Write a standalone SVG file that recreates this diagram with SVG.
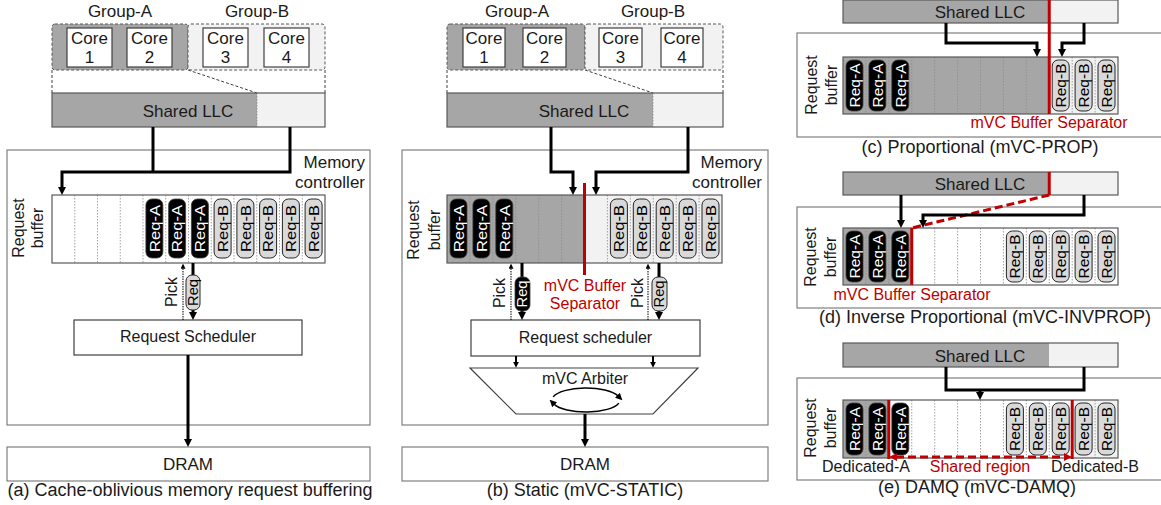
<svg xmlns="http://www.w3.org/2000/svg" width="1161" height="505" viewBox="0 0 1161 505">
<defs>
<style>
text{font-family:"Liberation Sans",Arial,sans-serif;fill:#1a1a1a}
.box{fill:#fff;stroke:#7f7f7f;stroke-width:1.2}
.dbox{fill:#fff;stroke:#404040;stroke-width:1.2}
.core{fill:#fff;stroke:#404040;stroke-width:1.2}
.ga{fill:#a6a6a6;stroke:#595959;stroke-width:1;stroke-dasharray:3 2}
.gb{fill:#f2f2f2;stroke:#595959;stroke-width:1;stroke-dasharray:3 2}
.gray{fill:#a6a6a6}
.light{fill:#f2f2f2}
.white{fill:#fff}
.frame{fill:none;stroke:#595959;stroke-width:1.2}
.dash{fill:none;stroke:#404040;stroke-width:1;stroke-dasharray:3 2}
.div{stroke:#8c8c8c;stroke-width:0.8;stroke-dasharray:1.5 1.5}
.pa{fill:#000;stroke:#404040;stroke-width:0.8}
.pb{fill:#d9d9d9;stroke:#262626;stroke-width:1}
.ta{fill:#fff;font-size:15px;text-anchor:middle}
.tb{fill:#000;font-size:15px;text-anchor:middle}
.conn{fill:none;stroke:#000;stroke-width:3}
.thin{fill:none;stroke:#000;stroke-width:2}
.pick{fill:none;stroke:#000;stroke-width:1;stroke-dasharray:1.5 1}
.circ{fill:none;stroke:#000;stroke-width:1.5}
.sep{stroke:#c00000;stroke-width:3;fill:none}
.rdash{stroke:#c00000;stroke-width:3;fill:none;stroke-dasharray:8 4}
text.red{fill:#c00000}
.f17{font-size:17px}
.f16{font-size:16px}
.cap{font-size:18px}
.mid{text-anchor:middle}
.end{text-anchor:end}
</style>
<marker id="ah" viewBox="0 0 8 8" refX="1" refY="4" markerWidth="8" markerHeight="8" markerUnits="userSpaceOnUse" orient="auto"><path d="M0,0 L8,4 L0,8 z" fill="#000"/></marker>
<marker id="ahm" viewBox="0 0 8 8" refX="1" refY="4" markerWidth="6" markerHeight="6" markerUnits="userSpaceOnUse" orient="auto"><path d="M0,0 L8,4 L0,8 z" fill="#000"/></marker>
<marker id="ahs" viewBox="0 0 8 8" refX="1" refY="4" markerWidth="5" markerHeight="5" markerUnits="userSpaceOnUse" orient="auto"><path d="M0,0 L8,4 L0,8 z" fill="#000"/></marker>
<marker id="ahc" viewBox="0 0 8 8" refX="1" refY="4" markerWidth="7" markerHeight="7" markerUnits="userSpaceOnUse" orient="auto"><path d="M0,0 L8,4 L0,8 z" fill="#000"/></marker>
<marker id="ahr" viewBox="0 0 8 8" refX="1" refY="4" markerWidth="8" markerHeight="8" markerUnits="userSpaceOnUse" orient="auto-start-reverse"><path d="M0,0 L8,4 L0,8 z" fill="#c00000"/></marker>
</defs>
<rect x="0" y="0" width="1161" height="505" fill="#fff"/>

<!-- ================= Panel (a) ================= -->
<g id="a-memctrl">
<rect class="box" x="7" y="150" width="363" height="275"/>
<text class="f17 end" x="365" y="168">Memory</text>
<text class="f17 end" x="365" y="188">controller</text>
</g>
<g id="a-groupA"><rect class="ga" x="52" y="24" width="136" height="46" rx="3"/><text class="f17 mid" x="120" y="17">Group-A</text></g>
<g id="a-groupB"><rect class="gb" x="188" y="24" width="137" height="46" rx="3"/><text class="f17 mid" x="257" y="17">Group-B</text></g>
<g id="a-core1"><rect class="core" x="67" y="28" width="45" height="39"/><text class="f17 mid" x="89.5" y="44">Core</text><text class="f17 mid" x="89.5" y="63">1</text></g>
<g id="a-core2"><rect class="core" x="127" y="28" width="45" height="39"/><text class="f17 mid" x="149.5" y="44">Core</text><text class="f17 mid" x="149.5" y="63">2</text></g>
<g id="a-core3"><rect class="core" x="203" y="28" width="45" height="39"/><text class="f17 mid" x="225.5" y="44">Core</text><text class="f17 mid" x="225.5" y="63">3</text></g>
<g id="a-core4"><rect class="core" x="264" y="28" width="45" height="39"/><text class="f17 mid" x="286.5" y="44">Core</text><text class="f17 mid" x="286.5" y="63">4</text></g>
<path class="dash" d="M52,70 V93 M325,70 V93 M188,70 L257,93"/>
<g id="a-llc">
<rect class="gray" x="52" y="93" width="205" height="34"/><rect class="light" x="257" y="93" width="68" height="34"/>
<line class="div" x1="257" y1="93" x2="257" y2="127"/>
<rect class="frame" x="52" y="93" width="273" height="34"/>
<text class="f17 mid" x="188" y="117">Shared LLC</text>
</g>
<g id="a-buffer">
<rect class="white" x="52" y="195" width="273" height="68"/>
<path class="div" d="M74.75,195V263M97.5,195V263M120.25,195V263M143,195V263M165.75,195V263M188.5,195V263M211.25,195V263M234,195V263M256.75,195V263M279.5,195V263M302.25,195V263"/>
<rect class="frame" x="52" y="195" width="273" height="68"/>
<rect class="pa" x="145.9" y="199" width="17" height="59" rx="6"/><text class="ta" dy=".35em" textLength="47" lengthAdjust="spacingAndGlyphs" transform="translate(154.4,228.5) rotate(-90)">Req-A</text>
<rect class="pa" x="168.6" y="199" width="17" height="59" rx="6"/><text class="ta" dy=".35em" textLength="47" lengthAdjust="spacingAndGlyphs" transform="translate(177.1,228.5) rotate(-90)">Req-A</text>
<rect class="pa" x="191.4" y="199" width="17" height="59" rx="6"/><text class="ta" dy=".35em" textLength="47" lengthAdjust="spacingAndGlyphs" transform="translate(199.9,228.5) rotate(-90)">Req-A</text>
<rect class="pb" x="214.1" y="199" width="17" height="59" rx="6"/><text class="tb" dy=".35em" textLength="47" lengthAdjust="spacingAndGlyphs" transform="translate(222.6,228.5) rotate(-90)">Req-B</text>
<rect class="pb" x="236.9" y="199" width="17" height="59" rx="6"/><text class="tb" dy=".35em" textLength="47" lengthAdjust="spacingAndGlyphs" transform="translate(245.4,228.5) rotate(-90)">Req-B</text>
<rect class="pb" x="259.6" y="199" width="17" height="59" rx="6"/><text class="tb" dy=".35em" textLength="47" lengthAdjust="spacingAndGlyphs" transform="translate(268.1,228.5) rotate(-90)">Req-B</text>
<rect class="pb" x="282.4" y="199" width="17" height="59" rx="6"/><text class="tb" dy=".35em" textLength="47" lengthAdjust="spacingAndGlyphs" transform="translate(290.9,228.5) rotate(-90)">Req-B</text>
<rect class="pb" x="305.1" y="199" width="17" height="59" rx="6"/><text class="tb" dy=".35em" textLength="47" lengthAdjust="spacingAndGlyphs" transform="translate(313.6,228.5) rotate(-90)">Req-B</text>
<text class="f16 mid" transform="translate(24,228) rotate(-90)">Request</text>
<text class="f16 mid" transform="translate(43,228) rotate(-90)">buffer</text>
</g>
<g id="a-scheduler"><rect class="dbox" x="74" y="320" width="228" height="35"/><text class="f16 mid" x="188" y="342">Request Scheduler</text></g>
<g id="a-dram"><rect class="box" x="7" y="447" width="363" height="34"/><text class="f17 mid" x="188" y="470">DRAM</text></g>
<text id="a-caption" class="cap mid" x="190" y="496">(a) Cache-oblivious memory request buffering</text>

<!-- ================= Panel (b) ================= -->
<g id="b-memctrl">
<rect class="box" x="402" y="150" width="366" height="275"/>
<text class="f17 end" x="762" y="168">Memory</text>
<text class="f17 end" x="762" y="188">controller</text>
</g>
<g id="b-groupA"><rect class="ga" x="447" y="24" width="138" height="46" rx="3"/><text class="f17 mid" x="517" y="17">Group-A</text></g>
<g id="b-groupB"><rect class="gb" x="585" y="24" width="138" height="46" rx="3"/><text class="f17 mid" x="653" y="17">Group-B</text></g>
<g id="b-core1"><rect class="core" x="463" y="28" width="42" height="39"/><text class="f17 mid" x="484" y="44">Core</text><text class="f17 mid" x="484" y="63">1</text></g>
<g id="b-core2"><rect class="core" x="523" y="28" width="43" height="39"/><text class="f17 mid" x="544.5" y="44">Core</text><text class="f17 mid" x="544.5" y="63">2</text></g>
<g id="b-core3"><rect class="core" x="599" y="28" width="43" height="39"/><text class="f17 mid" x="620.5" y="44">Core</text><text class="f17 mid" x="620.5" y="63">3</text></g>
<g id="b-core4"><rect class="core" x="661" y="28" width="42" height="39"/><text class="f17 mid" x="682" y="44">Core</text><text class="f17 mid" x="682" y="63">4</text></g>
<path class="dash" d="M447,70 V93 M723,70 V93 M585,70 L653,93"/>
<g id="b-llc">
<rect class="gray" x="447" y="93" width="206" height="34"/><rect class="light" x="653" y="93" width="70" height="34"/>
<line class="div" x1="653" y1="93" x2="653" y2="127"/>
<rect class="frame" x="447" y="93" width="276" height="34"/>
<text class="f17 mid" x="584" y="117">Shared LLC</text>
</g>
<g id="b-buffer">
<rect class="gray" x="447" y="195" width="137.5" height="68"/><rect class="light" x="584.5" y="195" width="137.5" height="68"/>
<path class="div" d="M469.9,195V263M492.8,195V263M515.75,195V263M538.7,195V263M561.6,195V263M607.4,195V263M630.3,195V263M653.25,195V263M676.2,195V263M699.1,195V263"/>
<rect class="frame" x="447" y="195" width="275" height="68"/>
<rect class="pa" x="450" y="199" width="17" height="59" rx="6"/><text class="ta" dy=".35em" textLength="47" lengthAdjust="spacingAndGlyphs" transform="translate(458.5,228.5) rotate(-90)">Req-A</text>
<rect class="pa" x="472.9" y="199" width="17" height="59" rx="6"/><text class="ta" dy=".35em" textLength="47" lengthAdjust="spacingAndGlyphs" transform="translate(481.4,228.5) rotate(-90)">Req-A</text>
<rect class="pa" x="495.8" y="199" width="17" height="59" rx="6"/><text class="ta" dy=".35em" textLength="47" lengthAdjust="spacingAndGlyphs" transform="translate(504.3,228.5) rotate(-90)">Req-A</text>
<rect class="pb" x="610.4" y="199" width="17" height="59" rx="6"/><text class="tb" dy=".35em" textLength="47" lengthAdjust="spacingAndGlyphs" transform="translate(618.9,228.5) rotate(-90)">Req-B</text>
<rect class="pb" x="633.3" y="199" width="17" height="59" rx="6"/><text class="tb" dy=".35em" textLength="47" lengthAdjust="spacingAndGlyphs" transform="translate(641.8,228.5) rotate(-90)">Req-B</text>
<rect class="pb" x="656.2" y="199" width="17" height="59" rx="6"/><text class="tb" dy=".35em" textLength="47" lengthAdjust="spacingAndGlyphs" transform="translate(664.7,228.5) rotate(-90)">Req-B</text>
<rect class="pb" x="679.1" y="199" width="17" height="59" rx="6"/><text class="tb" dy=".35em" textLength="47" lengthAdjust="spacingAndGlyphs" transform="translate(687.6,228.5) rotate(-90)">Req-B</text>
<rect class="pb" x="702" y="199" width="17" height="59" rx="6"/><text class="tb" dy=".35em" textLength="47" lengthAdjust="spacingAndGlyphs" transform="translate(710.5,228.5) rotate(-90)">Req-B</text>
<text class="f16 mid" transform="translate(419,230) rotate(-90)">Request</text>
<text class="f16 mid" transform="translate(440,230) rotate(-90)">buffer</text>
</g>
<g id="b-separator">
<line class="sep" x1="584.5" y1="183" x2="584.5" y2="275"/>
<text class="f16 mid red" x="585" y="291">mVC Buffer</text>
<text class="f16 mid red" x="585" y="309">Separator</text>
</g>
<g id="b-scheduler"><rect class="dbox" x="471" y="320" width="229" height="36"/><text class="f16 mid" x="585.5" y="343">Request scheduler</text></g>
<g id="b-arbiter">
<polygon class="dbox" points="470,368 698,368 653,414 516,414"/>
<text class="f16 mid" x="585" y="384">mVC Arbiter</text>
<path class="circ" d="M553.2,396.9 A34,12 0 0 1 618,395.9" marker-end="url(#ahc)"/>
<path class="circ" d="M618.8,403.1 A34,12 0 0 1 554,404.1" marker-end="url(#ahc)"/>
</g>
<g id="b-dram"><rect class="box" x="402" y="447" width="366" height="34"/><text class="f17 mid" x="585" y="470">DRAM</text></g>
<text id="b-caption" class="cap mid" x="585" y="496">(b) Static (mVC-STATIC)</text>

<!-- ================= Panel (c) ================= -->
<g id="c-memctrl"><rect class="box" x="797" y="33" width="380" height="104"/></g>
<g id="c-llc">
<rect class="gray" x="843" y="0" width="206" height="23"/><rect class="light" x="1049" y="0" width="69" height="23"/>
<rect class="frame" x="843" y="0" width="275" height="23"/>
<text class="f17 mid" x="980" y="18">Shared LLC</text>
</g>
<g id="c-buffer">
<rect class="gray" x="843" y="57" width="206.25" height="57"/><rect class="light" x="1049.25" y="57" width="68.75" height="57"/>
<path class="div" d="M865.9,57V114M888.8,57V114M911.75,57V114M934.7,57V114M957.6,57V114M980.5,57V114M1003.4,57V114M1026.3,57V114M1072.2,57V114M1095.1,57V114"/>
<rect class="frame" x="843" y="57" width="275" height="57"/>
<rect class="pa" x="846" y="60" width="17" height="51" rx="6"/><text class="ta" dy=".35em" textLength="44" lengthAdjust="spacingAndGlyphs" transform="translate(854.5,85.5) rotate(-90)">Req-A</text>
<rect class="pa" x="868.9" y="60" width="17" height="51" rx="6"/><text class="ta" dy=".35em" textLength="44" lengthAdjust="spacingAndGlyphs" transform="translate(877.4,85.5) rotate(-90)">Req-A</text>
<rect class="pa" x="891.8" y="60" width="17" height="51" rx="6"/><text class="ta" dy=".35em" textLength="44" lengthAdjust="spacingAndGlyphs" transform="translate(900.3,85.5) rotate(-90)">Req-A</text>
<rect class="pb" x="1052.2" y="60" width="17" height="51" rx="6"/><text class="tb" dy=".35em" textLength="44" lengthAdjust="spacingAndGlyphs" transform="translate(1060.7,85.5) rotate(-90)">Req-B</text>
<rect class="pb" x="1075.1" y="60" width="17" height="51" rx="6"/><text class="tb" dy=".35em" textLength="44" lengthAdjust="spacingAndGlyphs" transform="translate(1083.6,85.5) rotate(-90)">Req-B</text>
<rect class="pb" x="1098" y="60" width="17" height="51" rx="6"/><text class="tb" dy=".35em" textLength="44" lengthAdjust="spacingAndGlyphs" transform="translate(1106.5,85.5) rotate(-90)">Req-B</text>
<text class="f16 mid" transform="translate(817,85) rotate(-90)">Request</text>
<text class="f16 mid" transform="translate(837,85) rotate(-90)">buffer</text>
</g>
<g id="c-separator">
<line class="sep" x1="1049.25" y1="0" x2="1049.25" y2="114"/>
<text class="f16 mid red" x="1049" y="128">mVC Buffer Separator</text>
</g>
<text id="c-caption" class="cap mid" x="980" y="153">(c) Proportional (mVC-PROP)</text>

<!-- ================= Panel (d) ================= -->
<g id="d-memctrl"><rect class="box" x="797" y="207" width="380" height="101"/></g>
<g id="d-llc">
<rect class="gray" x="843" y="172" width="206" height="23"/><rect class="light" x="1049" y="172" width="69" height="23"/>
<rect class="frame" x="843" y="172" width="275" height="23"/>
<text class="f17 mid" x="980" y="190">Shared LLC</text>
</g>
<g id="d-buffer">
<rect class="white" x="843" y="228" width="275" height="57"/><rect class="gray" x="843" y="228" width="68.75" height="57"/>
<path class="div" d="M865.9,228V285M888.8,228V285M934.7,228V285M957.6,228V285M980.5,228V285M1003.4,228V285M1026.3,228V285M1049.25,228V285M1072.2,228V285M1095.1,228V285"/>
<rect class="frame" x="843" y="228" width="275" height="57"/>
<rect class="pa" x="846" y="231" width="17" height="51" rx="6"/><text class="ta" dy=".35em" textLength="44" lengthAdjust="spacingAndGlyphs" transform="translate(854.5,256.5) rotate(-90)">Req-A</text>
<rect class="pa" x="868.9" y="231" width="17" height="51" rx="6"/><text class="ta" dy=".35em" textLength="44" lengthAdjust="spacingAndGlyphs" transform="translate(877.4,256.5) rotate(-90)">Req-A</text>
<rect class="pa" x="891.8" y="231" width="17" height="51" rx="6"/><text class="ta" dy=".35em" textLength="44" lengthAdjust="spacingAndGlyphs" transform="translate(900.3,256.5) rotate(-90)">Req-A</text>
<rect class="pb" x="1006.4" y="231" width="17" height="51" rx="6"/><text class="tb" dy=".35em" textLength="44" lengthAdjust="spacingAndGlyphs" transform="translate(1014.9,256.5) rotate(-90)">Req-B</text>
<rect class="pb" x="1029.3" y="231" width="17" height="51" rx="6"/><text class="tb" dy=".35em" textLength="44" lengthAdjust="spacingAndGlyphs" transform="translate(1037.8,256.5) rotate(-90)">Req-B</text>
<rect class="pb" x="1052.2" y="231" width="17" height="51" rx="6"/><text class="tb" dy=".35em" textLength="44" lengthAdjust="spacingAndGlyphs" transform="translate(1060.7,256.5) rotate(-90)">Req-B</text>
<rect class="pb" x="1075.1" y="231" width="17" height="51" rx="6"/><text class="tb" dy=".35em" textLength="44" lengthAdjust="spacingAndGlyphs" transform="translate(1083.6,256.5) rotate(-90)">Req-B</text>
<rect class="pb" x="1098" y="231" width="17" height="51" rx="6"/><text class="tb" dy=".35em" textLength="44" lengthAdjust="spacingAndGlyphs" transform="translate(1106.5,256.5) rotate(-90)">Req-B</text>
<text class="f16 mid" transform="translate(816,257) rotate(-90)">Request</text>
<text class="f16 mid" transform="translate(836,257) rotate(-90)">buffer</text>
</g>
<g id="d-separator">
<line class="sep" x1="1049.25" y1="172" x2="1049.25" y2="195"/>
<path class="rdash" d="M1049.25,195 L911.75,228"/>
<line class="sep" x1="911.75" y1="228" x2="911.75" y2="285"/>
<text class="f16 mid red" x="912" y="300">mVC Buffer Separator</text>
</g>
<text id="d-caption" class="cap mid" x="985" y="323">(d) Inverse Proportional (mVC-INVPROP)</text>

<!-- ================= Panel (e) ================= -->
<g id="e-memctrl"><rect class="box" x="797" y="378" width="380" height="102"/></g>
<g id="e-llc">
<rect class="gray" x="843" y="343" width="206" height="24"/><rect class="light" x="1049" y="343" width="69" height="24"/>
<rect class="frame" x="843" y="343" width="275" height="24"/>
<text class="f17 mid" x="980" y="362">Shared LLC</text>
</g>
<g id="e-buffer">
<rect class="white" x="843" y="400" width="275" height="58"/><rect class="gray" x="843" y="400" width="45.8" height="58"/><rect class="light" x="1072.2" y="400" width="45.8" height="58"/>
<path class="div" d="M865.9,400V458M911.75,400V458M934.7,400V458M957.6,400V458M980.5,400V458M1003.4,400V458M1026.3,400V458M1049.25,400V458M1095.1,400V458"/>
<rect class="frame" x="843" y="400" width="275" height="58"/>
<rect class="pa" x="846" y="403" width="17" height="52" rx="6"/><text class="ta" dy=".35em" textLength="44" lengthAdjust="spacingAndGlyphs" transform="translate(854.5,429) rotate(-90)">Req-A</text>
<rect class="pa" x="868.9" y="403" width="17" height="52" rx="6"/><text class="ta" dy=".35em" textLength="44" lengthAdjust="spacingAndGlyphs" transform="translate(877.4,429) rotate(-90)">Req-A</text>
<rect class="pa" x="891.8" y="403" width="17" height="52" rx="6"/><text class="ta" dy=".35em" textLength="44" lengthAdjust="spacingAndGlyphs" transform="translate(900.3,429) rotate(-90)">Req-A</text>
<rect class="pb" x="1006.4" y="403" width="17" height="52" rx="6"/><text class="tb" dy=".35em" textLength="44" lengthAdjust="spacingAndGlyphs" transform="translate(1014.9,429) rotate(-90)">Req-B</text>
<rect class="pb" x="1029.3" y="403" width="17" height="52" rx="6"/><text class="tb" dy=".35em" textLength="44" lengthAdjust="spacingAndGlyphs" transform="translate(1037.8,429) rotate(-90)">Req-B</text>
<rect class="pb" x="1052.2" y="403" width="17" height="52" rx="6"/><text class="tb" dy=".35em" textLength="44" lengthAdjust="spacingAndGlyphs" transform="translate(1060.7,429) rotate(-90)">Req-B</text>
<rect class="pb" x="1075.1" y="403" width="17" height="52" rx="6"/><text class="tb" dy=".35em" textLength="44" lengthAdjust="spacingAndGlyphs" transform="translate(1083.6,429) rotate(-90)">Req-B</text>
<rect class="pb" x="1098" y="403" width="17" height="52" rx="6"/><text class="tb" dy=".35em" textLength="44" lengthAdjust="spacingAndGlyphs" transform="translate(1106.5,429) rotate(-90)">Req-B</text>
<text class="f16 mid" transform="translate(816,428) rotate(-90)">Request</text>
<text class="f16 mid" transform="translate(836,428) rotate(-90)">buffer</text>
</g>
<g id="e-regions">
<line class="sep" x1="888.8" y1="400" x2="888.8" y2="459"/>
<line class="sep" x1="1072.2" y1="400" x2="1072.2" y2="459"/>
<path class="rdash" d="M896,457 H1065" marker-start="url(#ahr)" marker-end="url(#ahr)"/>
<text class="f16 mid" x="866" y="472">Dedicated-A</text>
<text class="f16 mid red" x="980" y="472">Shared region</text>
<text class="f16 mid" x="1095" y="472">Dedicated-B</text>
</g>
<text id="e-caption" class="cap mid" x="977" y="493">(e) DAMQ (mVC-DAMQ)</text>

<!-- ================= Connectors ================= -->
<g id="connectors">
<path class="conn" d="M153,127 V172"/>
<path class="conn" d="M290,127 V172 H62 V188" marker-end="url(#ah)"/>
<path class="pick" d="M183,320 V268" marker-end="url(#ahs)"/>
<path class="conn" d="M193,263 V313" marker-end="url(#ah)"/>
<path class="conn" d="M188,355 V440" marker-end="url(#ah)"/>

<path class="conn" d="M551,127 V172 H573 V188" marker-end="url(#ah)"/>
<path class="conn" d="M688,127 V172 H596 V188" marker-end="url(#ah)"/>
<path class="pick" d="M511,320 V268" marker-end="url(#ahs)"/>
<path class="conn" d="M522,263 V313" marker-end="url(#ah)"/>
<path class="pick" d="M648,320 V268" marker-end="url(#ahs)"/>
<path class="conn" d="M659,263 V313" marker-end="url(#ah)"/>
<path class="thin" d="M516,356 V362.5" marker-end="url(#ahm)"/>
<path class="thin" d="M653,356 V362.5" marker-end="url(#ahm)"/>
<path class="conn" d="M585,414 V440" marker-end="url(#ah)"/>

<path class="conn" d="M946,23 V43 H1037 V50" marker-end="url(#ah)"/>
<path class="conn" d="M1084,23 V43 H1062 V50" marker-end="url(#ah)"/>

<path class="conn" d="M901,195 V221" marker-end="url(#ah)"/>
<path class="conn" d="M1084,195 V215 H923 V221" marker-end="url(#ah)"/>

<path class="conn" d="M946,367 V390 H1084 V367"/>
<path class="conn" d="M980,390 V393" marker-end="url(#ah)"/>
</g>

<!-- moving request pills on connectors -->
<g id="a-pick">
<rect class="pb" x="186" y="275" width="14" height="35" rx="6"/><text class="tb" style="font-size:14px" dy=".35em" textLength="27" lengthAdjust="spacingAndGlyphs" transform="translate(193,292.5) rotate(-90)">Req</text>
<text class="f16 mid" transform="translate(177,292) rotate(-90)">Pick</text>
</g>
<g id="b-pickA">
<rect class="pa" x="515" y="277" width="15" height="34" rx="6"/><text class="ta" style="font-size:14px" dy=".35em" textLength="27" lengthAdjust="spacingAndGlyphs" transform="translate(522.5,294) rotate(-90)">Req</text>
<text class="f16 mid" transform="translate(505,293) rotate(-90)">Pick</text>
</g>
<g id="b-pickB">
<rect class="pb" x="652" y="277" width="15" height="34" rx="6"/><text class="tb" style="font-size:14px" dy=".35em" textLength="27" lengthAdjust="spacingAndGlyphs" transform="translate(659.5,294) rotate(-90)">Req</text>
<text class="f16 mid" transform="translate(643,293) rotate(-90)">Pick</text>
</g>
</svg>
